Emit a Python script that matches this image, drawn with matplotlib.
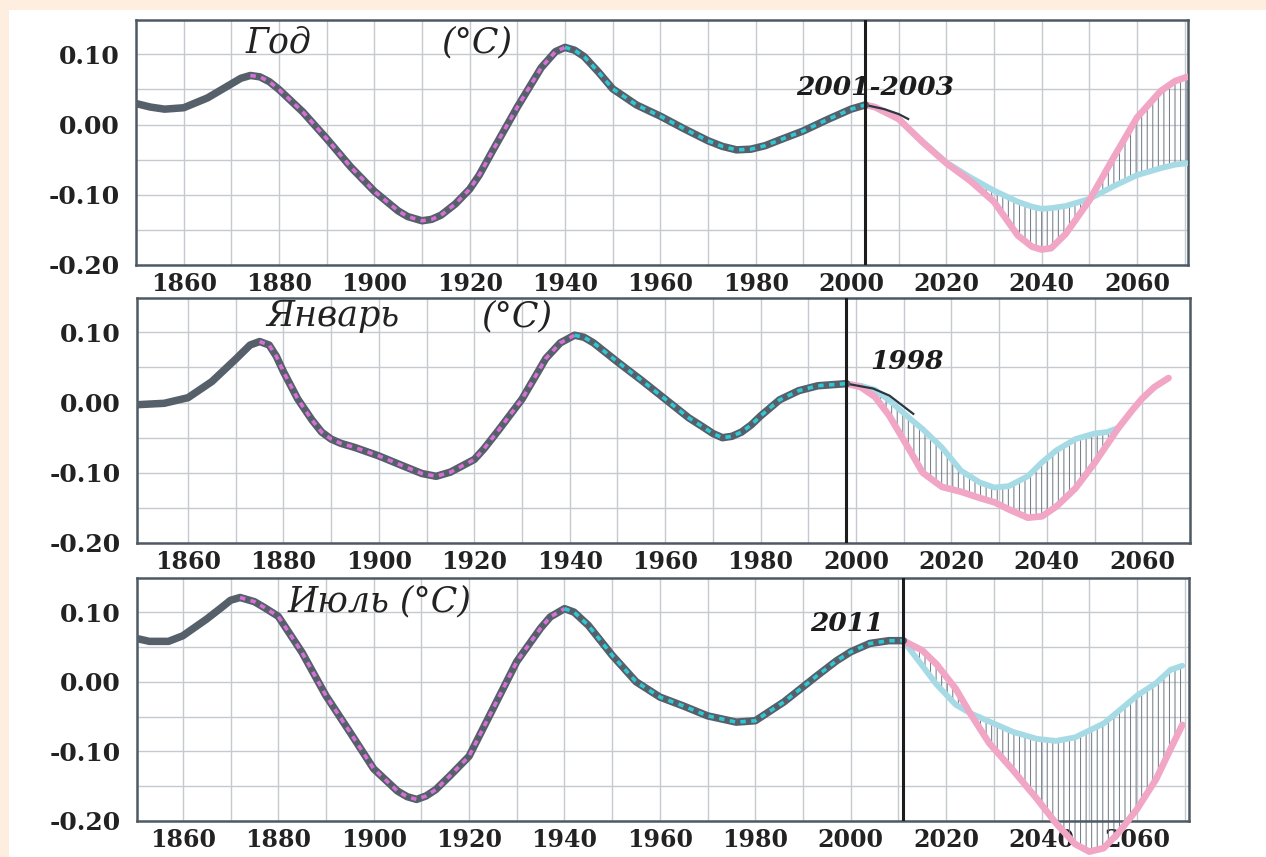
import numpy as np
import matplotlib
matplotlib.use("Agg")
from matplotlib import pyplot as plt
from matplotlib.patches import Rectangle

# ---- data ----
# annual (Год)
years_god = [1850, 1853, 1856, 1860, 1865, 1870, 1872, 1874, 1876, 1878, 1880, 1885, 1890, 1895,
             1900, 1905, 1907, 1910, 1912, 1914, 1917, 1920, 1922, 1925, 1930, 1935, 1938, 1940,
             1942, 1944, 1947, 1950, 1955, 1960, 1965, 1970, 1973, 1976, 1979, 1982, 1985, 1990,
             1995, 2000, 2003]
vals_god = [0.030, 0.025, 0.022, 0.024, 0.038, 0.058, 0.066, 0.070, 0.068, 0.061, 0.050, 0.018,
            -0.020, -0.060, -0.095, -0.123, -0.131, -0.137, -0.135, -0.129, -0.113, -0.092,
            -0.072, -0.035, 0.025, 0.081, 0.104, 0.110, 0.106, 0.097, 0.075, 0.051, 0.028, 0.012,
            -0.006, -0.023, -0.031, -0.036, -0.035, -0.030, -0.022, -0.009, 0.007, 0.022, 0.028]
fc_years_god = [2003, 2005, 2010, 2015, 2020, 2025, 2030, 2035, 2038, 2040, 2042, 2045, 2050,
                2055, 2060, 2065, 2068, 2070.5]
fc_pink_god = [0.028, 0.025, 0.008, -0.025, -0.055, -0.080, -0.110, -0.158, -0.174, -0.178,
               -0.176, -0.156, -0.108, -0.048, 0.010, 0.048, 0.062, 0.068]
fc_blue_god = [0.028, 0.025, 0.008, -0.024, -0.054, -0.075, -0.094, -0.110, -0.117, -0.120,
               -0.119, -0.116, -0.106, -0.088, -0.072, -0.062, -0.057, -0.055]
cont_years_god = [2003, 2007, 2010, 2012]
cont_vals_god = [0.028, 0.022, 0.015, 0.008]

# January (Январь)
years_jan = [1849.3, 1855, 1860, 1865, 1870, 1873, 1875, 1877, 1878.5, 1880, 1883, 1886, 1888,
             1890, 1892, 1895, 1900, 1905, 1909, 1912, 1915, 1920, 1922, 1925, 1930, 1935, 1938,
             1941, 1943, 1945, 1950, 1955, 1960, 1965, 1968, 1970, 1972, 1974, 1976, 1978, 1980,
             1984, 1988, 1992, 1998]
vals_jan = [-0.003, -0.001, 0.007, 0.030, 0.062, 0.082, 0.087, 0.082, 0.066, 0.044, 0.005,
            -0.025, -0.042, -0.052, -0.058, -0.064, -0.076, -0.090, -0.101, -0.105, -0.099,
            -0.081, -0.066, -0.040, 0.005, 0.063, 0.085, 0.096, 0.093, 0.085, 0.058, 0.032,
            0.005, -0.022, -0.035, -0.044, -0.050, -0.048, -0.042, -0.032, -0.019, 0.004, 0.017,
            0.024, 0.027]
fc_years_jan = [1998, 2001, 2004, 2007, 2011, 2014, 2018, 2022, 2026, 2029, 2032, 2036, 2039,
                2042, 2046, 2050, 2052.6, 2055]
fc_pink_jan = [0.027, 0.022, 0.008, -0.019, -0.065, -0.100, -0.120, -0.127, -0.136, -0.142,
               -0.152, -0.164, -0.162, -0.148, -0.122, -0.086, -0.060, -0.036]
fc_blue_jan = [0.027, 0.024, 0.018, 0.003, -0.021, -0.038, -0.064, -0.097, -0.114, -0.121,
               -0.119, -0.105, -0.085, -0.068, -0.052, -0.044, -0.042, -0.036]
tail_years_jan = [2055, 2058, 2060, 2062.5, 2065.5]
tail_pink_jan = [-0.036, -0.010, 0.006, 0.022, 0.035]
cont_years_jan = [1998, 2003.6, 2007, 2012]
cont_vals_jan = [0.027, 0.020, 0.010, -0.016]

# July (Июль)
years_jul = [1850.4, 1853, 1857, 1860, 1865, 1868, 1870, 1872, 1875, 1877, 1880, 1885, 1890,
             1895, 1900, 1905, 1907, 1909, 1911, 1913, 1916, 1920, 1925, 1930, 1935, 1937, 1940,
             1942, 1945, 1950, 1955, 1960, 1965, 1970, 1976, 1980, 1986, 1993, 1997, 2000, 2004,
             2008, 2011]
vals_jul = [0.062, 0.058, 0.058, 0.066, 0.090, 0.106, 0.117, 0.121, 0.115, 0.107, 0.094, 0.042,
            -0.020, -0.072, -0.125, -0.157, -0.165, -0.169, -0.164, -0.155, -0.135, -0.107,
            -0.039, 0.029, 0.077, 0.093, 0.105, 0.100, 0.081, 0.038, 0.000, -0.022, -0.035,
            -0.049, -0.058, -0.056, -0.029, 0.009, 0.030, 0.043, 0.055, 0.059, 0.059]
fc_years_jul = [2011, 2015, 2018, 2022, 2025, 2029, 2034, 2039, 2043, 2047, 2050, 2053, 2056,
                2060, 2064, 2067, 2069.5]
fc_pink_jul = [0.059, 0.045, 0.025, -0.010, -0.045, -0.088, -0.127, -0.168, -0.203, -0.233,
               -0.244, -0.239, -0.218, -0.183, -0.140, -0.097, -0.062]
fc_blue_jul = [0.059, 0.023, -0.004, -0.033, -0.045, -0.057, -0.072, -0.082, -0.085, -0.080,
               -0.070, -0.060, -0.043, -0.020, -0.002, 0.017, 0.023]

panels = [
    dict(years=years_god, vals=vals_god, p1=1874, p2=1940, cut=2003,
         fy=fc_years_god, pink=fc_pink_god, blue=fc_blue_god,
         cy=cont_years_god, cv=cont_vals_god, ty=None, tp=None,
         xlim=(1850, 2070.7), rect=[136, 20, 1188, 265],
         labels=[("Год", 1873, 0.117), ("(°C)", 1914, 0.117)],
         note=("2001-2003", 1988.5, 0.053)),
    dict(years=years_jan, vals=vals_jan, p1=1875, p2=1941, cut=1998,
         fy=fc_years_jan, pink=fc_pink_jan, blue=fc_blue_jan,
         cy=cont_years_jan, cv=cont_vals_jan, ty=tail_years_jan, tp=tail_pink_jan,
         xlim=(1849.3, 2070), rect=[137, 298, 1190, 543],
         labels=[("Январь", 1876.5, 0.123), ("(°C)", 1921.5, 0.123)],
         note=("1998", 2003, 0.058)),
    dict(years=years_jul, vals=vals_jul, p1=1872, p2=1940, cut=2011,
         fy=fc_years_jul, pink=fc_pink_jul, blue=fc_blue_jul,
         cy=None, cv=None, ty=None, tp=None,
         xlim=(1850.4, 2070.9), rect=[137, 578, 1189, 821],
         labels=[("Июль (°C)", 1882, 0.115)],
         note=("2011", 1991.5, 0.084)),
]

W, H = 1266, 857
plt.rcParams['font.family'] = ['DejaVu Serif']
plt.rcParams['axes.unicode_minus'] = False
plt.rcParams['hatch.linewidth'] = 0.7

fig = plt.figure(figsize=(W / 100, H / 100), dpi=100)
fig.patch.set_facecolor('#fdeee0')
fig.patches.append(Rectangle((9 / W, 0), 1, 1 - 10 / H, transform=fig.transFigure,
                             facecolor='white', edgecolor='none', zorder=-5))

gray = '#56606a'
magenta = '#d66fd6'
cyan = '#2ec8d4'
pink = '#f2a6c6'
lblue = '#a6dbe6'

for i, p in enumerate(panels):
    l, t, r, b = p["rect"]
    ax = fig.add_axes([l / W, 1 - b / H, (r - l) / W, (b - t) / H])
    ax.set_facecolor('white')
    ax.set_xlim(*p["xlim"])
    ax.set_ylim(-0.2, 0.149)
    ax.set_xticks(np.arange(1860, 2061, 20))
    ax.set_xticks(np.arange(1860, 2071, 10), minor=True)
    ax.set_yticks([-0.2, -0.1, 0.0, 0.1])
    ax.set_yticks(np.arange(-0.15, 0.15, 0.05), minor=True)
    ax.set_yticklabels(["%.2f" % v for v in [-0.2, -0.1, 0.0, 0.1]])
    ax.grid(True, which='both', color='#c6cacf', lw=1.0)
    ax.tick_params(which='both', length=0)
    ax.tick_params(axis='y', pad=12, labelsize=18)
    ax.tick_params(axis='x', pad=5, labelsize=17)
    for lab in ax.get_xticklabels() + ax.get_yticklabels():
        lab.set_fontweight('bold')
        lab.set_color('#222222')
    for s in ax.spines.values():
        s.set_color('#4f5964')
        s.set_linewidth(1.8)

    years = np.array(p["years"])
    vals = np.array(p["vals"])
    clip = (i != 2)

    # forecast: hatch between the two curves, then the curves
    ax.fill_between(p["fy"], p["pink"], p["blue"], facecolor='none', edgecolor='#6c7682',
                    hatch='|||', linewidth=0, zorder=2, clip_on=clip)
    ax.plot(p["fy"], p["blue"], color=lblue, lw=4.2, solid_capstyle='round',
            solid_joinstyle='round', zorder=3)
    ax.plot(p["fy"], p["pink"], color=pink, lw=4.8, solid_capstyle='round',
            solid_joinstyle='round', zorder=3, clip_on=clip)
    if p["ty"] is not None:
        ax.plot(p["ty"], p["tp"], color=pink, lw=4.8, solid_capstyle='round',
                solid_joinstyle='round', zorder=3)
    if p["cy"] is not None:
        ax.plot(p["cy"], p["cv"], color='#2c3640', lw=1.6, zorder=4)

    # historical curve: thick gray with coloured dots on top
    ax.plot(years, vals, color=gray, lw=5.4, solid_capstyle='round', solid_joinstyle='round',
            zorder=4)
    m1 = (years >= p["p1"]) & (years <= p["p2"])
    m2 = years >= p["p2"]
    ax.plot(years[m1], vals[m1], color=magenta, lw=2.6, ls=(0, (1.5, 1.5)), zorder=5)
    ax.plot(years[m2], vals[m2], color=cyan, lw=2.6, ls=(0, (1.5, 1.5)), zorder=5)

    ax.axvline(p["cut"], color='#1c1c1c', lw=2.2, zorder=6)

    for txt, x, y in p["labels"]:
        ax.text(x, y, txt, fontsize=25, style='italic', va='center', ha='left', color='#222222')
    txt, x, y = p["note"]
    ax.text(x, y, txt, fontsize=19, style='italic', fontweight='bold', va='center', ha='left',
            color='#1c1c1c', zorder=7)

fig.savefig("out.png", dpi=100, facecolor=fig.get_facecolor())
